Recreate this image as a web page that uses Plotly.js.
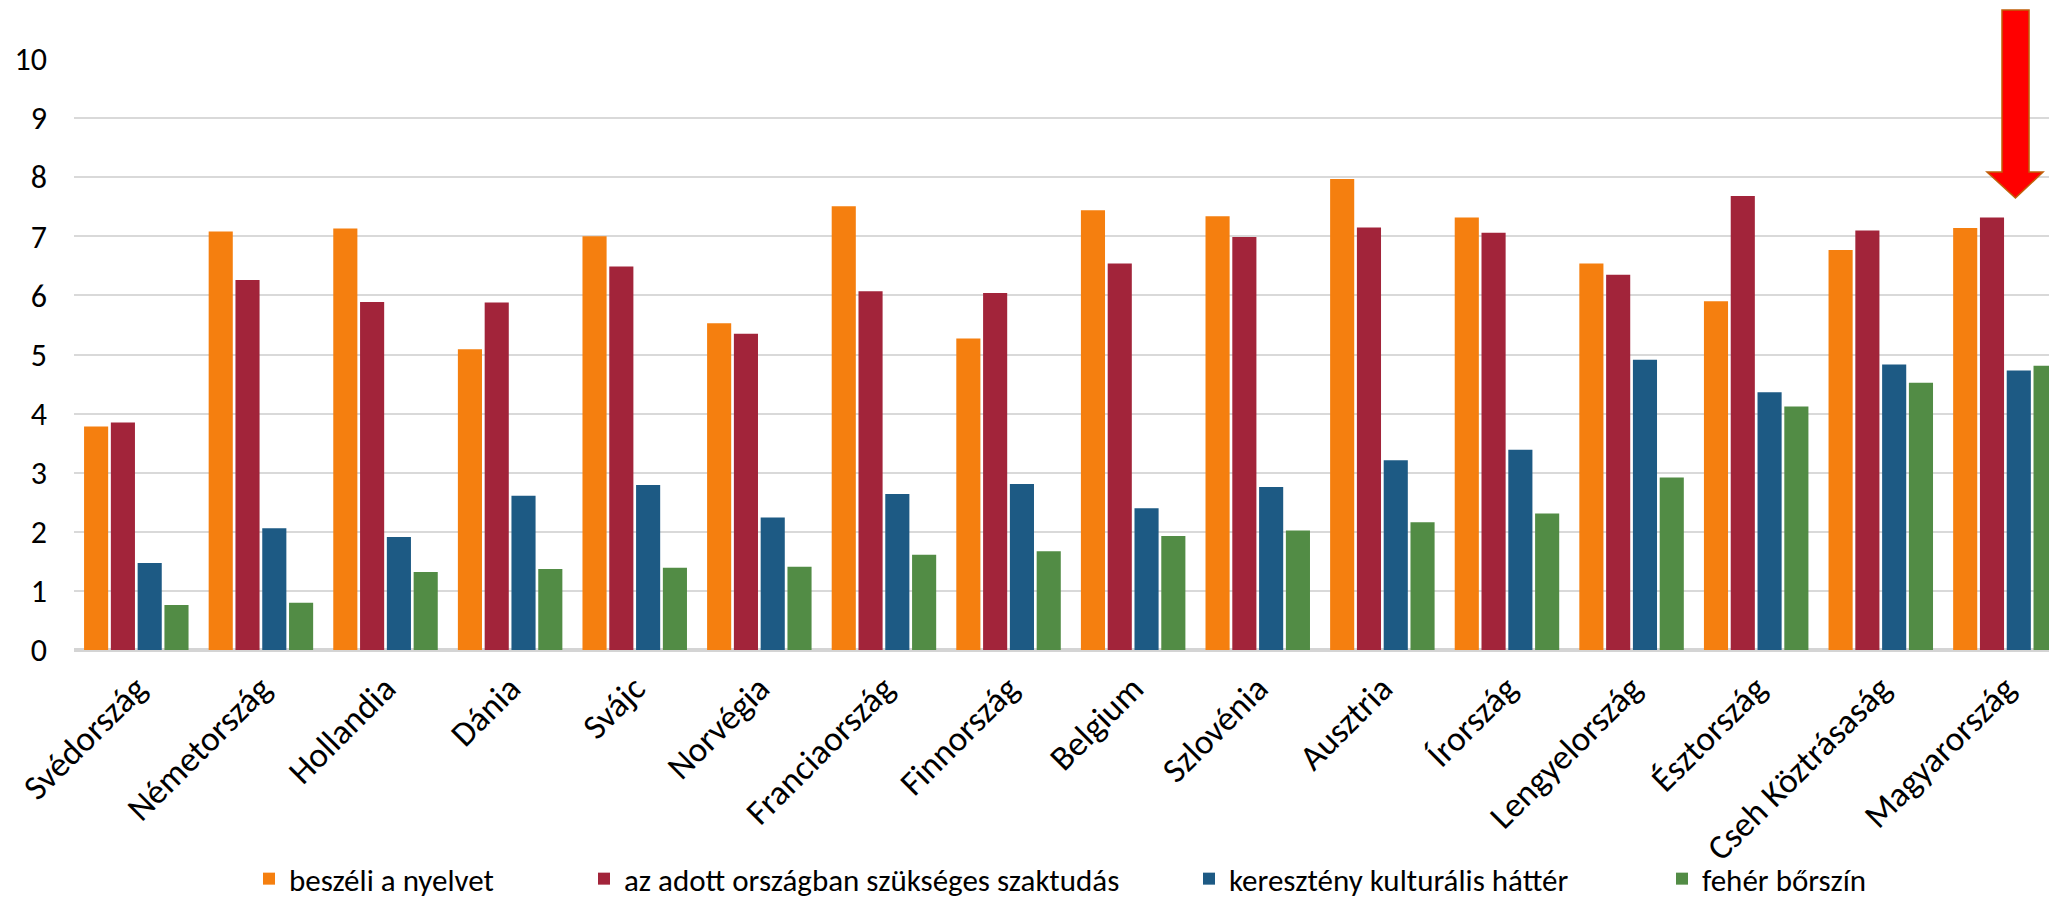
<!DOCTYPE html>
<html>
<head>
<meta charset="utf-8">
<script src="https://cdn.plot.ly/plotly-3.0.1.min.js"></script>
<style>html,body{margin:0;padding:0;background:#fff;}#chart{width:2049px;height:899px;}</style>
</head>
<body>
<div id="chart"></div>
<script>
const countries = ["Svédország","Németország","Hollandia","Dánia","Svájc","Norvégia","Franciaország","Finnország","Belgium","Szlovénia","Ausztria","Írország","Lengyelország","Észtország","Cseh Köztrásaság","Magyarország"];
const seriesNames = ["beszéli a nyelvet","az adott országban szükséges szaktudás","keresztény kulturális háttér","fehér bőrszín"];
const nyelv     = [3.78, 7.08, 7.13, 5.09, 7.00, 5.53, 7.51, 5.27, 7.44, 7.34, 7.97, 7.32, 6.54, 5.90, 6.77, 7.14];
const szaktudas = [3.85, 6.26, 5.89, 5.88, 6.49, 5.35, 6.07, 6.04, 6.54, 6.99, 7.15, 7.06, 6.35, 7.68, 7.10, 7.32];
const kereszteny= [1.47, 2.06, 1.91, 2.61, 2.79, 2.24, 2.64, 2.81, 2.40, 2.76, 3.21, 3.39, 4.91, 4.36, 4.83, 4.73];
const feher     = [0.76, 0.80, 1.32, 1.37, 1.39, 1.41, 1.61, 1.67, 1.93, 2.02, 2.16, 2.31, 2.92, 4.12, 4.52, 4.81];
const colors = ["#F57F0F", "#A2243A", "#1D5A84", "#528C45"];
const yTicks = [0,1,2,3,4,5,6,7,8,9,10];

const FONT = "Carlito, Lato, 'Open Sans', sans-serif";
const values = [nyelv, szaktudas, kereszteny, feher];
const legendIds = ["legend", "legend2", "legend3", "legend4"];
const traces = values.map((v, i) => ({
  type: "bar",
  name: seriesNames[i],
  x: countries,
  y: v,
  legend: legendIds[i],
  marker: {color: colors[i], line: {width: 0}},
  hoverinfo: "x+y+name"
}));

// left edges of the legend entries (container fraction)
const legendX = [249/2049, 584/2049, 1189/2049, 1662/2049];
function legendCfg(x) {
  return {
    orientation: "h",
    xref: "container", yref: "container",
    x: x, xanchor: "left",
    y: 20/899, yanchor: "middle",
    font: {family: FONT, size: 31, color: "#000"},
    itemwidth: 30,
    bgcolor: "rgba(0,0,0,0)",
    borderwidth: 0
  };
}

const layout = {
  width: 2049, height: 899,
  margin: {l: 74, r: 0, t: 59, b: 249},
  paper_bgcolor: "#ffffff",
  plot_bgcolor: "#ffffff",
  font: {family: FONT, color: "#000000"},
  barmode: "group",
  bargap: 0.14,
  bargroupgap: 0.1,
  showlegend: true,
  xaxis: {
    type: "category",
    range: [-0.5, 15.35],
    tickangle: -45,
    tickfont: {family: FONT, size: 35, color: "#000"},
    showgrid: false,
    showline: false,
    ticks: "",
    ticklabelstandoff: 10,
    zeroline: false
  },
  yaxis: {
    range: [0, 10],
    tickvals: yTicks,
    ticktext: yTicks.map(String),
    tickfont: {family: FONT, size: 32, color: "#000"},
    showgrid: true,
    gridcolor: "#D9D9D9",
    gridwidth: 2,
    zeroline: true,
    zerolinecolor: "#D4D4D4",
    zerolinewidth: 4,
    ticks: "",
    ticklabelstandoff: 26,
    showline: false
  },
  legend: legendCfg(legendX[0]),
  legend2: legendCfg(legendX[1]),
  legend3: legendCfg(legendX[2]),
  legend4: legendCfg(legendX[3]),
  shapes: [{
    type: "path",
    xref: "paper", yref: "paper",
    path: "M 0.9762 1.083 L 0.9899 1.083 L 0.9899 0.8088 L 0.9970 0.8088 L 0.9830 0.7648 L 0.9686 0.8088 L 0.9762 0.8088 Z",
    fillcolor: "#FF0000",
    line: {color: "#C0600A", width: 1.5},
    layer: "above"
  }]
};

Plotly.newPlot("chart", traces, layout, {displayModeBar: false, responsive: false});
</script>
</body>
</html>
